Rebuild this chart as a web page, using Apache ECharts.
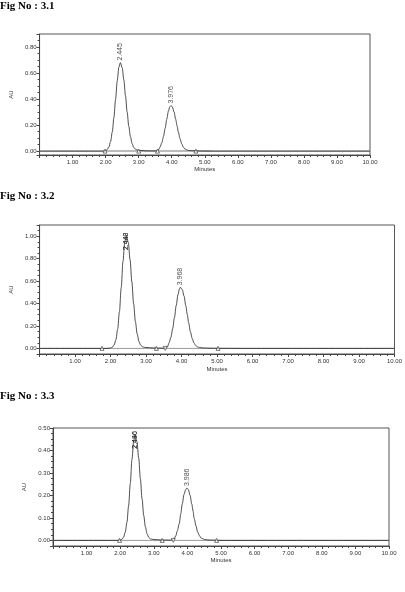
<!DOCTYPE html>
<html>
<head>
<meta charset="utf-8">
<script src="https://cdn.jsdelivr.net/npm/echarts@6/dist/echarts.min.js"></script>
<style>
  html, body { margin: 0; padding: 0; background: #fff; }
  #chart { width: 405px; height: 592px; }
</style>
</head>
<body>
<div id="chart"></div>
<script>
// Fig 3.1
const fig1Time = [0, 1.9, 2.0, 2.05, 2.1, 2.15, 2.2, 2.25, 2.3, 2.35, 2.4, 2.445, 2.5, 2.55, 2.6, 2.65, 2.7, 2.75, 2.8, 2.85, 2.9, 2.95, 3.0, 3.2, 3.5,
  3.6, 3.65, 3.7, 3.75, 3.8, 3.85, 3.9, 3.94, 3.976, 4.02, 4.07, 4.12, 4.16, 4.2, 4.25, 4.3, 4.35, 4.4, 4.45, 4.5, 4.6, 4.8, 5.0, 10];
const fig1Au = [0, 0, 0.004, 0.013, 0.033, 0.074, 0.147, 0.258, 0.398, 0.54, 0.646, 0.68, 0.641, 0.548, 0.425, 0.299, 0.191, 0.111, 0.058, 0.028, 0.015, 0.009, 0.006, 0.002, 0.001,
  0.01, 0.033, 0.064, 0.113, 0.176, 0.246, 0.308, 0.34, 0.35, 0.338, 0.30, 0.244, 0.195, 0.147, 0.095, 0.057, 0.031, 0.016, 0.01, 0.006, 0.003, 0.001, 0, 0];
const fig1Marks = [1.98, 3.0, 3.57, 4.73];
const fig1Drops = [];
const fig1Baseline = [1.98, 5.2];
const fig1PeakTime = [2.445, 3.976];
const fig1PeakAu = [0.68, 0.35];
const fig1PeakLabel = ['2.445', '3.976'];

// Fig 3.2
const fig2Time = [0, 1.9, 2.0, 2.05, 2.1, 2.15, 2.2, 2.25, 2.3, 2.35, 2.4, 2.445, 2.5, 2.55, 2.6, 2.65, 2.7, 2.75, 2.8, 2.85, 2.9, 2.95, 3.0, 3.2, 3.5,
  3.6, 3.65, 3.7, 3.75, 3.8, 3.85, 3.9, 3.94, 3.968, 4.02, 4.07, 4.12, 4.16, 4.2, 4.25, 4.3, 4.35, 4.4, 4.45, 4.5, 4.6, 4.8, 5.0, 5.7, 10];
const fig2Au = [0, 0, 0.003, 0.01, 0.03, 0.077, 0.171, 0.328, 0.542, 0.774, 0.951, 1.01, 0.944, 0.79, 0.592, 0.397, 0.238, 0.128, 0.062, 0.028, 0.015, 0.01, 0.008, 0.004, 0.002,
  0.012, 0.051, 0.10, 0.176, 0.274, 0.383, 0.48, 0.529, 0.545, 0.525, 0.467, 0.38, 0.304, 0.229, 0.148, 0.089, 0.048, 0.025, 0.014, 0.008, 0.004, 0.002, 0.001, 0, 0];
const fig2Marks = [1.76, 3.29, 5.03];
const fig2Drops = [3.54];
const fig2Baseline = [];
const fig2PeakTime = [2.443, 2.449, 3.968];
const fig2PeakAu = [1.01, 1.01, 0.545];
const fig2PeakLabel = ['2.443', '2.449', '3.968'];

// Fig 3.3
const fig3Time = [0, 1.9, 2.0, 2.05, 2.1, 2.15, 2.2, 2.25, 2.3, 2.35, 2.4, 2.44, 2.5, 2.55, 2.6, 2.65, 2.7, 2.75, 2.8, 2.85, 2.9, 2.95, 3.0, 3.2, 3.5,
  3.6, 3.66, 3.7, 3.76, 3.8, 3.85, 3.9, 3.95, 3.986, 4.03, 4.08, 4.13, 4.17, 4.2, 4.26, 4.3, 4.36, 4.4, 4.46, 4.5, 4.6, 4.8, 5.0, 10];
const fig3Au = [0, 0, 0.001, 0.005, 0.014, 0.036, 0.08, 0.153, 0.252, 0.36, 0.442, 0.47, 0.439, 0.367, 0.275, 0.185, 0.111, 0.06, 0.029, 0.013, 0.007, 0.005, 0.004, 0.002, 0.001,
  0.006, 0.022, 0.043, 0.075, 0.117, 0.164, 0.205, 0.226, 0.233, 0.225, 0.2, 0.162, 0.13, 0.098, 0.063, 0.038, 0.021, 0.011, 0.007, 0.004, 0.002, 0.001, 0, 0];
const fig3Marks = [1.98, 3.25, 4.87];
const fig3Drops = [3.58];
const fig3Baseline = [];
const fig3PeakTime = [2.436, 2.44, 3.986];
const fig3PeakAu = [0.47, 0.47, 0.233];
const fig3PeakLabel = ['2.436', '2.440', '3.986'];

const xTicks = [1, 2, 3, 4, 5, 6, 7, 8, 9, 10];

const chart = echarts.init(document.getElementById('chart'));

const ink = '#333';
const small = { fontFamily: 'Liberation Sans', fontSize: 6, color: ink };

const panels = [
  { time: fig1Time, au: fig1Au, marks: fig1Marks, drops: fig1Drops, base: fig1Baseline, pt: fig1PeakTime, pa: fig1PeakAu, pl: fig1PeakLabel,
    grid: { left: 25, right: 35, top: 34, bottom: 437 }, ymin: -0.03, ymax: 0.9, showMax: false, labelDist: 2, nameGapY: 16, nameGapX: 11 },
  { time: fig2Time, au: fig2Au, marks: fig2Marks, drops: fig2Drops, base: fig2Baseline, pt: fig2PeakTime, pa: fig2PeakAu, pl: fig2PeakLabel,
    grid: { left: 33, right: 7, top: 225, bottom: 238 }, ymin: -0.05, ymax: 1.1, showMax: false, labelDist: -15, nameGapY: 18, nameGapX: 12 },
  { time: fig3Time, au: fig3Au, marks: fig3Marks, drops: fig3Drops, base: fig3Baseline, pt: fig3PeakTime, pa: fig3PeakAu, pl: fig3PeakLabel,
    grid: { left: 53, right: 16, top: 428, bottom: 46 }, ymin: -0.025, ymax: 0.5, showMax: true, labelDist: -14, nameGapY: 18, nameGapX: 10 }
];

const grids = [], xAxes = [], yAxes = [], series = [];

panels.forEach(function (p, i) {
  grids.push(Object.assign({ show: true, borderColor: '#555', borderWidth: 1, containLabel: false }, p.grid));
  xAxes.push({
    type: 'value', gridIndex: i, min: 0, max: 10, interval: 1,
    name: 'Minutes', nameLocation: 'middle', nameGap: p.nameGapX,
    nameTextStyle: small,
    axisLine: { onZero: false, lineStyle: { color: '#444', width: 1 } },
    axisTick: { length: 3, lineStyle: { color: '#444' } },
    minorTick: { show: true, splitNumber: 5, length: 2, lineStyle: { color: '#444' } },
    splitLine: { show: false },
    axisLabel: Object.assign({ margin: 4, showMinLabel: false,
      formatter: function (v) { return xTicks.indexOf(v) >= 0 ? v.toFixed(2) : ''; } }, small)
  });
  yAxes.push({
    type: 'value', gridIndex: i, min: p.ymin, max: p.ymax,
    name: 'AU', nameLocation: 'middle', nameGap: p.nameGapY, nameRotate: 90,
    nameTextStyle: small,
    axisLine: { lineStyle: { color: '#444', width: 1 } },
    axisTick: { length: 3, lineStyle: { color: '#444' } },
    minorTick: { show: true, splitNumber: 4, length: 2, lineStyle: { color: '#444' } },
    splitLine: { show: false },
    axisLabel: Object.assign({ margin: 3, showMinLabel: false, showMaxLabel: p.showMax,
      formatter: function (v) { return v.toFixed(2); } }, small)
  });

  // zero baseline
  series.push({
    type: 'line', xAxisIndex: i, yAxisIndex: i, symbol: 'none', silent: true, z: 1,
    lineStyle: { color: '#999', width: 1 },
    data: [[0, 0], [10, 0]]
  });
  // integration baseline
  if (p.base.length) {
    series.push({
      type: 'line', xAxisIndex: i, yAxisIndex: i, symbol: 'none', silent: true, z: 2,
      lineStyle: { color: '#bbb', width: 2 },
      data: p.base.map(function (t) { return [t, 0]; })
    });
  }
  // trace
  series.push({
    type: 'line', xAxisIndex: i, yAxisIndex: i, symbol: 'none', z: 3,
    smooth: 0.3, smoothMonotone: 'x',
    lineStyle: { color: '#222', width: 0.8 },
    data: p.time.map(function (t, k) { return [t, p.au[k]]; })
  });
  // integration marks
  series.push({
    type: 'scatter', xAxisIndex: i, yAxisIndex: i, z: 4,
    symbol: 'triangle', symbolSize: 4,
    itemStyle: { color: '#fff', borderColor: '#333', borderWidth: 0.8 },
    data: p.marks.map(function (t) { return [t, 0]; })
  });
  series.push({
    type: 'scatter', xAxisIndex: i, yAxisIndex: i, z: 4,
    symbol: 'triangle', symbolRotate: 180, symbolSize: 4,
    itemStyle: { color: '#fff', borderColor: '#333', borderWidth: 0.8 },
    data: p.drops.map(function (t) { return [t, 0]; })
  });
  // peak labels
  series.push({
    type: 'scatter', xAxisIndex: i, yAxisIndex: i, z: 5, symbolSize: 0,
    label: {
      show: true, position: 'top', distance: 2, rotate: 90, align: 'left', verticalAlign: 'middle',
      fontFamily: 'Liberation Sans', fontSize: 7, color: '#222',
      formatter: function (d) { return d.value[2]; }
    },
    data: p.pt.map(function (t, k) {
      const item = { value: [t, p.pa[k], p.pl[k]] };
      if (k < p.pt.length - 1 && p.labelDist < 0) item.label = { distance: p.labelDist };
      return item;
    })
  });
});

chart.setOption({
  animation: false,
  title: [
    { text: 'Fig No : 3.1', left: 0, top: 1 },
    { text: 'Fig No : 3.2', left: 0, top: 191 },
    { text: 'Fig No : 3.3', left: 0, top: 391 }
  ].map(function (t) {
    t.padding = 0;
    t.textStyle = { fontFamily: 'Liberation Serif', fontWeight: 'bold', fontSize: 11, color: '#000' };
    return t;
  }),
  grid: grids,
  xAxis: xAxes,
  yAxis: yAxes,
  series: series
});
</script>
</body>
</html>
